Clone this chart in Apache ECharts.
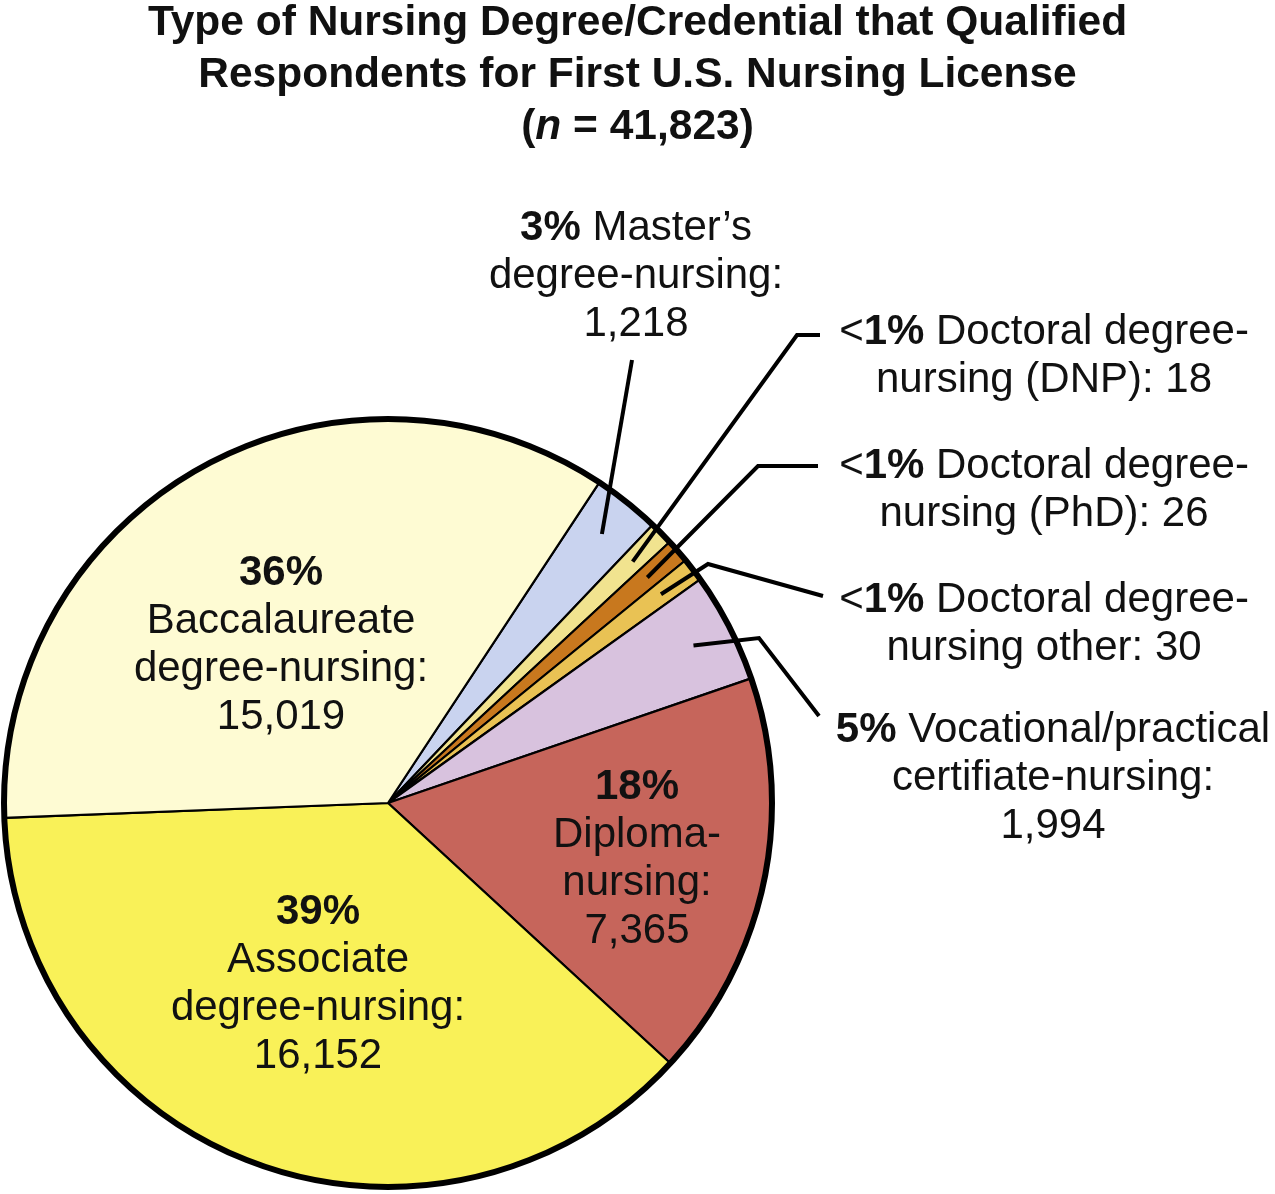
<!DOCTYPE html>
<html>
<head>
<meta charset="utf-8">
<script src="https://cdn.jsdelivr.net/npm/echarts/dist/echarts.min.js"></script>
<style>
html,body{margin:0;padding:0;background:#ffffff;}
#chart{width:1275px;height:1194px;}
</style>
</head>
<body>
<div id="chart"></div>
<script>
// ---- data (clockwise from the top-right boundary) ----
const categories = [
  "Master’s degree-nursing",
  "Doctoral degree-nursing (DNP)",
  "Doctoral degree-nursing (PhD)",
  "Doctoral degree-nursing other",
  "Vocational/practical certifiate-nursing",
  "Diploma-nursing",
  "Associate degree-nursing",
  "Baccalaureate degree-nursing"
];
const values = [1218, 18, 26, 30, 1994, 7365, 16152, 15019];
const percentLabels = ["3%", "<1%", "<1%", "<1%", "5%", "18%", "39%", "36%"];
const labelTemplates = [
  "{pct} Master’s\ndegree-nursing:\n{val}",
  "{pct} Doctoral degree-\nnursing (DNP): {val}",
  "{pct} Doctoral degree-\nnursing (PhD): {val}",
  "{pct} Doctoral degree-\nnursing other: {val}",
  "{pct} Vocational/practical\ncertifiate-nursing:\n{val}",
  "{pct}\nDiploma-\nnursing:\n{val}",
  "{pct}\nAssociate\ndegree-nursing:\n{val}",
  "{pct}\nBaccalaureate\ndegree-nursing:\n{val}"
];
const sliceColors = ["#C9D3EF", "#F1E38F", "#C8781E", "#E9C254", "#D8C2DE", "#C6655B", "#F9F158", "#FEFBD3"];
const titleText = "Type of Nursing Degree/Credential that Qualified\nRespondents for First U.S. Nursing License\n({i|n} = 41,823)";

// ---- layout (label placement and leader-line routing, not data) ----
const FONT = "'Liberation Sans', Arial, Helvetica, sans-serif";
const pieCenter = [388, 803];
const pieRadius = 384;
const anchorRatio = 0.895;
const labelPlacement = [
  { x: 636, y: 276, line: [[632, 360]] },
  { x: 1044, y: 356, line: [[797, 335], [820, 335]] },
  { x: 1044, y: 490, line: [[758, 466], [818, 466]] },
  { x: 1044, y: 624, line: [[708, 564], [823, 596]] },
  { x: 1053, y: 778, line: [[759, 638], [819, 716]] },
  { x: 637, y: 859 },
  { x: 318, y: 984 },
  { x: 281, y: 645 }
];

const chart = echarts.init(document.getElementById('chart'), null, { renderer: 'canvas' });

const pieData = categories.map(function (name, i) {
  return { name: name, value: values[i], itemStyle: { color: sliceColors[i] } };
});

const option = {
  animation: false,
  backgroundColor: '#ffffff',
  title: {
    text: titleText,
    left: 'center',
    top: -3,
    padding: 0,
    textStyle: {
      fontFamily: FONT,
      fontSize: 42.5,
      fontWeight: 'bold',
      lineHeight: 52,
      color: '#111111',
      rich: {
        i: { fontFamily: FONT, fontSize: 42.5, fontWeight: 'bold', fontStyle: 'italic', lineHeight: 52, color: '#111111' }
      }
    }
  },
  series: [
    {
      type: 'pie',
      center: pieCenter,
      radius: pieRadius,
      startAngle: 56.6,
      clockwise: true,
      minAngle: 3.6,
      avoidLabelOverlap: false,
      emphasis: { disabled: true },
      itemStyle: { borderColor: '#000000', borderWidth: 2.2 },
      label: {
        show: true,
        position: 'inside',
        color: '#111111',
        fontFamily: FONT,
        fontSize: 42,
        lineHeight: 48,
        formatter: function (p) {
          const i = p.dataIndex;
          const pct = percentLabels[i].replace(/(\d+%)/, '{b|$1}');
          return labelTemplates[i]
            .replace('{pct}', pct)
            .replace('{val}', values[i].toLocaleString('en-US'));
        },
        rich: {
          b: { fontFamily: FONT, fontSize: 42, lineHeight: 48, fontWeight: 'bold', color: '#111111' }
        }
      },
      labelLine: { show: false },
      labelLayout: function (params) {
        const place = labelPlacement[params.dataIndex];
        return { x: place.x, y: place.y, align: 'center', verticalAlign: 'middle' };
      },
      data: pieData,
      z: 2
    }
  ]
};

chart.setOption(option);

// Leader lines and outer rim, built from the pie layout computed by ECharts
(function addOverlay() {
  let model;
  try { model = chart.getModel(); } catch (e) { return; }
  if (!model) return;
  const data = model.getSeriesByIndex(0).getData();
  const elements = [];
  let rim = null;
  data.each(function (idx) {
    const l = data.getItemLayout(idx);
    if (!l) return;
    rim = { cx: l.cx, cy: l.cy, r: l.r };
    const place = labelPlacement[idx];
    if (!place.line) return;
    const mid = (l.startAngle + l.endAngle) / 2;
    const anchor = [l.cx + Math.cos(mid) * l.r * anchorRatio, l.cy + Math.sin(mid) * l.r * anchorRatio];
    elements.push({
      type: 'polyline',
      silent: true,
      z: 100,
      shape: { points: [anchor].concat(place.line) },
      style: { stroke: '#000000', lineWidth: 4, fill: 'none', lineJoin: 'miter' }
    });
  });
  if (rim) {
    elements.push({
      type: 'circle',
      silent: true,
      z: 90,
      shape: { cx: rim.cx, cy: rim.cy, r: rim.r },
      style: { stroke: '#000000', lineWidth: 6, fill: 'none' }
    });
  }
  chart.setOption({ graphic: { elements: elements } });
})();
</script>
</body>
</html>
